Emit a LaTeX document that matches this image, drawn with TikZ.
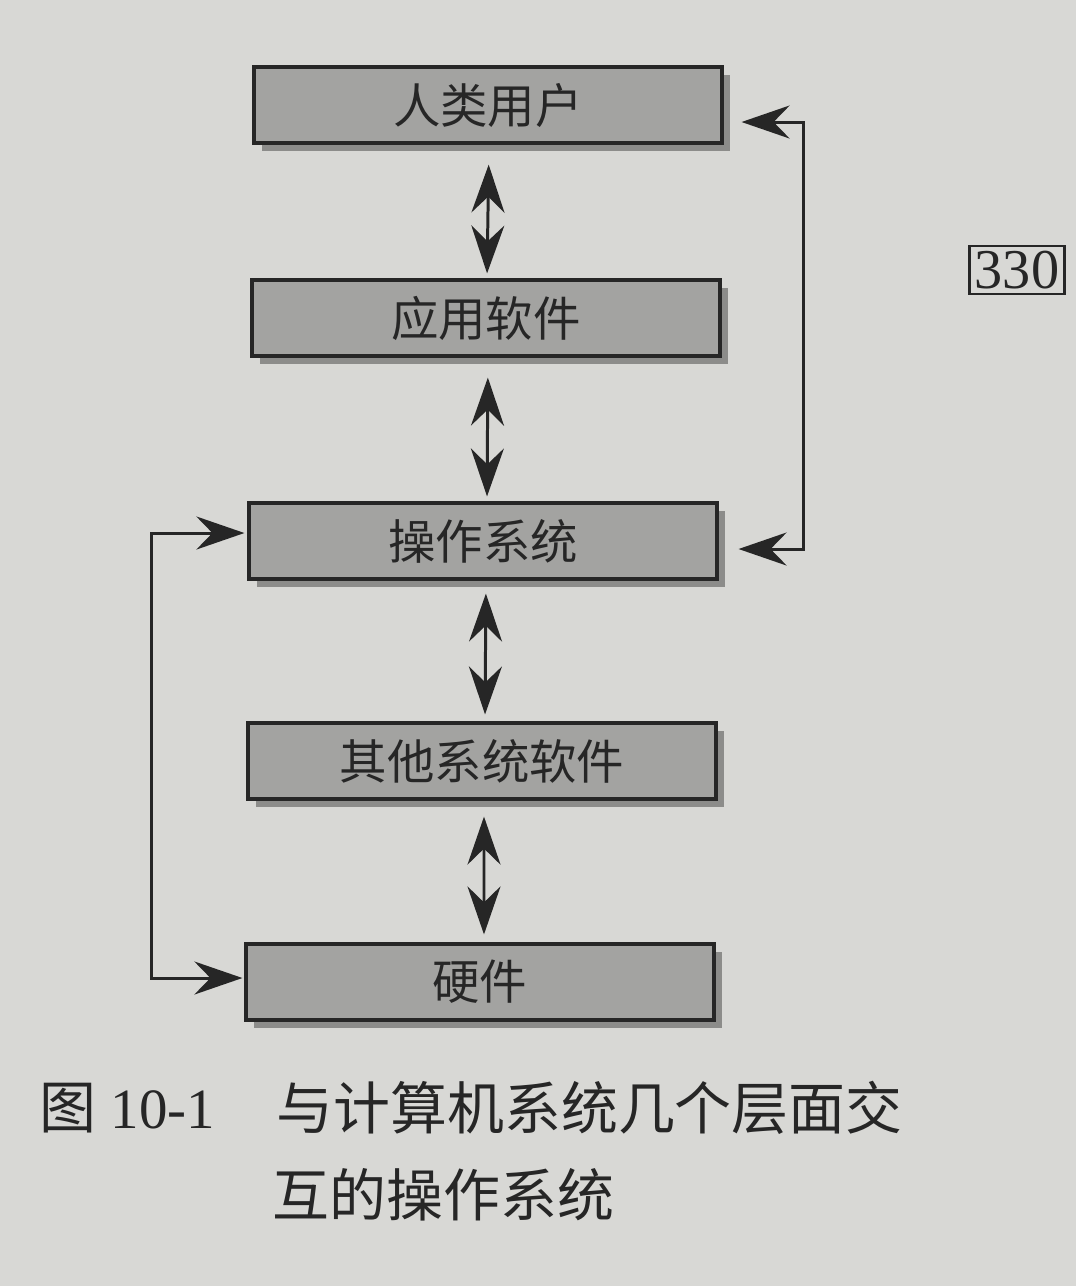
\documentclass[tikz,border=0pt]{standalone}
\usepackage{fontspec}
\setmainfont{Liberation Serif}
\newfontfamily\cjk{Noto Sans CJK SC}
\usepackage{tikz}
\usetikzlibrary{arrows.meta,positioning,shadows}
\definecolor{pagebg}{RGB}{216,216,213}
\definecolor{boxfill}{RGB}{163,163,161}
\definecolor{boxshade}{RGB}{140,140,138}
\definecolor{ink}{RGB}{38,38,38}

\begin{document}
\begin{tikzpicture}[
    every node/.style={font=\cjk\fontsize{13.5}{16}\selectfont, text=ink},
    layer/.style={draw=ink, line width=0.9pt, fill=boxfill, minimum width=4.68cm, minimum height=0.76cm,
      general shadow={fill=boxshade, shadow xshift=0.08cm, shadow yshift=-0.08cm}},
    link/.style={draw=ink, line width=0.85pt, {Stealth[length=4.8mm,width=3.3mm,inset=1.6mm]}-{Stealth[length=4.8mm,width=3.3mm,inset=1.6mm]}},
  ]
  % page
  \fill[pagebg] (0,0) rectangle (10.76,-12.86);
  \useasboundingbox (0,0) rectangle (10.76,-12.86);
  % layers
  \node[layer] (user)  at (4.88,-1.05) {人类用户};
  \node[layer] (app)   at (4.86,-3.18) {应用软件};
  \node[layer] (os)    at (4.83,-5.41) {操作系统};
  \node[layer] (other) at (4.82,-7.61) {其他系统软件};
  \node[layer] (hw)    at (4.80,-9.82) {硬件};
  % vertical links
  \draw[link, shorten <=2mm, shorten >=0.5mm] ([xshift=0.01cm]user.south) -- ([xshift=0.01cm]app.north);
  \draw[link, shorten <=2mm, shorten >=0.5mm] ([xshift=0.02cm]app.south) -- ([xshift=0.04cm]os.north);
  \draw[link, shorten <=1.3mm, shorten >=0.7mm] ([xshift=0.03cm]os.south) -- ([xshift=0.03cm]other.north);
  \draw[link, shorten <=1.6mm, shorten >=0.8mm] ([xshift=0.02cm]other.south) -- ([xshift=0.04cm]hw.north);
  % loops
  \draw[link] ([xshift=1.8mm,yshift=-1.7mm]user.east) -- ++(0.62,0) |- ([xshift=2mm,yshift=-0.8mm]os.east);
  \draw[link] ([xshift=-0.3mm,yshift=0.8mm]os.west) -- ++(-0.93,0) |- ([xshift=-0.2mm,yshift=0.4mm]hw.west);
  % page number
  \node[draw=ink, line width=0.6pt, font=\fontsize{16}{18}\selectfont, inner sep=1.5pt] (page) at (10.17,-2.70) {330};
  % caption
  \node[anchor=west, font=\fontsize{16.2}{20}\selectfont] (fig) at (0.27,-11.08) {{\cjk 图} 10-1};
  \node[anchor=west, font=\cjk\fontsize{16.2}{20}\selectfont] (cap1) at (2.64,-11.08) {与计算机系统几个层面交};
  \node[anchor=west, font=\cjk\fontsize{16.2}{20}\selectfont] (cap2) at (2.60,-11.95) {互的操作系统};
\end{tikzpicture}
\end{document}
